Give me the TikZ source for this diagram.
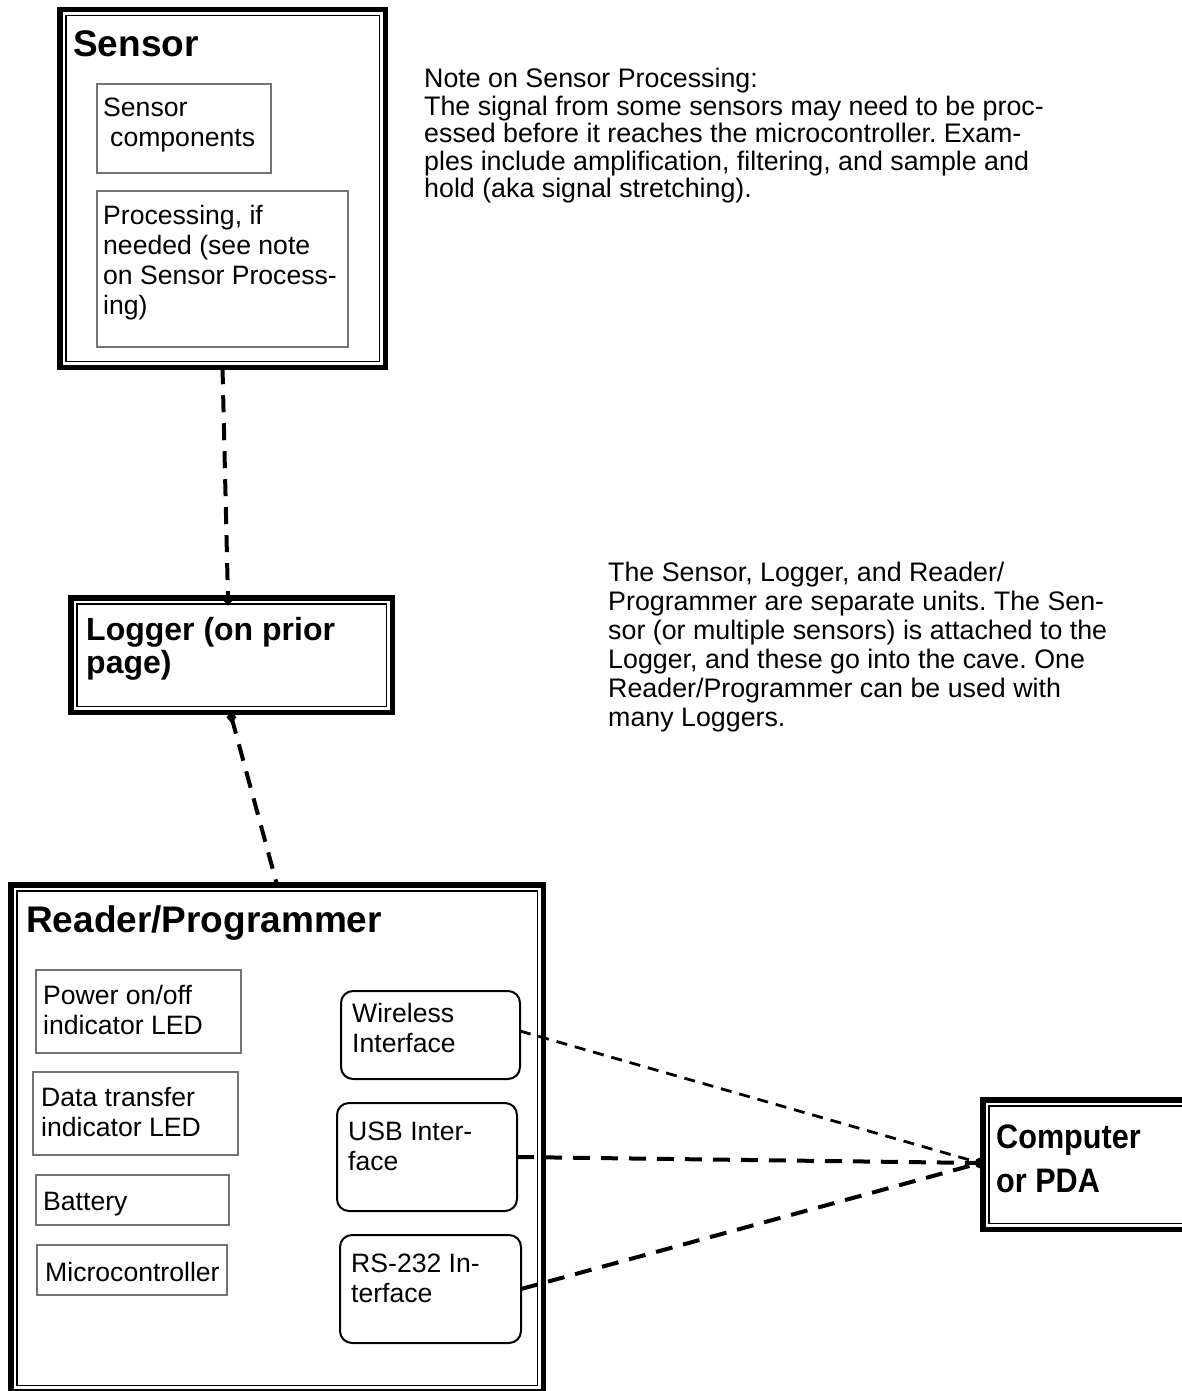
\documentclass[tikz,border=0pt]{standalone}
\usepackage{fontspec}
\setmainfont{Liberation Sans}
\newfontfamily\narrowbold{Liberation Sans}[FakeStretch=0.9,UprightFont={* Bold}]
\usetikzlibrary{arrows.meta}
\frenchspacing
\newcommand\ml[1]{\vtop{\halign{##\hfil\cr#1\crcr}}}
\newcommand\dbox[5]{%
  \node[bigbox, minimum width={#4-#2-5.5}, minimum height={#5-#3-5.5}] (#1) at ({#2+2.75},{#3+2.75}) {};
  \draw[innerline] ([shift={(6,6)}]#1.north west) rectangle ([shift={(-6,-6)}]#1.south east);}
\newcommand\pbox[6]{%
  \node[#6, minimum width={#4-#2}, minimum height={#5-#3}] (#1) at (#2,#3) {};}
\newcommand\diam[1]{\fill (#1) ++(0,-6) -- ++(5,6) -- ++(-5,6) -- ++(-5,-6) -- cycle;}
\begin{document}
\begin{tikzpicture}[x=1pt,y=-1pt,
  bigbox/.style={draw, line width=5.5pt, inner sep=0pt, outer sep=0pt, anchor=north west},
  innerline/.style={line width=1.5pt},
  graybox/.style={draw=black!55, line width=1.6pt, inner sep=0pt, outer sep=0pt, anchor=north west},
  roundbox/.style={draw, line width=2pt, rounded corners=12pt, inner sep=0pt, outer sep=0pt, anchor=north west},
  txtbody/.style={inner sep=0pt, anchor=base west, font=\fontsize{26.6}{30}\selectfont},
  txtnote/.style={inner sep=0pt, anchor=base west, font=\fontsize{26.8}{29}\selectfont},
  txtnotetight/.style={inner sep=0pt, anchor=base west, font=\fontsize{26.8}{27.5}\selectfont},
  txttitle/.style={inner sep=0pt, anchor=base west, font=\fontsize{37}{40}\selectfont\bfseries},
  thickdash/.style={line width=4pt, dash pattern=on 17pt off 11pt},
  thindash/.style={line width=2.8pt, dash pattern=on 11pt off 8pt}
]
\useasboundingbox (0,0) rectangle (1182,1391);
\clip (0,0) rectangle (1182,1391);

% ---- Sensor ----
\dbox{sensor}{57}{7}{388}{370}
\node[txttitle] (sensortitle) at (73,57) {Sensor};
\pbox{comp}{97}{84}{271}{173}{graybox}
\node[txtbody] (comptext) at (103,117) {\ml{Sensor\cr\hspace*{7pt}components}};
\pbox{proc}{97}{191}{348}{347}{graybox}
\node[txtbody] (proctext) at (103,224) {\ml{Processing, if\cr needed (see note\cr on Sensor Process-\cr ing)}};

% ---- Notes ----
\node[txtnotetight] (note1) at (424,88) {\ml{Note on Sensor Processing:\cr
The signal from some sensors may need to be proc-\cr
essed before it reaches the microcontroller. Exam-\cr
ples include amplification, filtering, and sample and\cr
hold (aka signal stretching).}};
\node[txtnote] (note2) at (608,581) {\ml{The Sensor, Logger, and Reader/\cr
Programmer are separate units. The Sen-\cr
sor (or multiple sensors) is attached to the\cr
Logger, and these go into the cave. One\cr
Reader/Programmer can be used with\cr
many Loggers.}};

% ---- Logger ----
\dbox{logger}{68}{595}{395}{715}
\node[inner sep=0pt, anchor=base west, font=\fontsize{32}{33}\selectfont\bfseries] (loggertext) at (86,640) {\ml{Logger (on prior\cr page)}};

% ---- Reader/Programmer ----
\dbox{reader}{8}{882}{546}{1394}
\node[txttitle] (readertitle) at (26,932) {Reader/Programmer};
\pbox{power}{36}{970}{241}{1053}{graybox}
\node[txtbody] (powertext) at (43,1004) {\ml{Power on/off\cr indicator LED}};
\pbox{data}{33}{1072}{238}{1155}{graybox}
\node[txtbody] (datatext) at (41,1106) {\ml{Data transfer\cr indicator LED}};
\pbox{battery}{36}{1175}{229}{1225}{graybox}
\node[txtbody] (batterytext) at (43,1210) {Battery};
\pbox{micro}{37}{1245}{227}{1295}{graybox}
\node[txtbody] (microtext) at (45,1281) {Microcontroller};
\pbox{wireless}{341}{991}{520}{1079}{roundbox}
\node[txtbody] (wirelesstext) at (352,1022) {\ml{Wireless\cr Interface}};
\pbox{usb}{337}{1103}{517}{1211}{roundbox}
\node[txtbody] (usbtext) at (348,1140) {\ml{USB Inter-\cr face}};
\pbox{rs}{340}{1235}{521}{1343}{roundbox}
\node[txtbody] (rstext) at (351,1272) {\ml{RS-232 In-\cr terface}};

% ---- Computer ----
\dbox{computer}{980}{1097}{1205}{1232}
\node[inner sep=0pt, anchor=base west, font=\narrowbold\fontsize{34}{44}\selectfont] (comptxt) at (996,1148) {\ml{Computer\cr or PDA}};

% ---- Connector end points ----
\coordinate (ltop) at ([xshift=-3.5pt,yshift=-2pt]logger.north);
\coordinate (lbot) at ([yshift=-5pt]logger.south);
\coordinate (cdot) at ([xshift=-2.5pt,yshift=1.5pt]computer.west);

% ---- Connectors ----
\draw[thickdash] (sensor.south) -- (ltop);
\draw[thickdash] (lbot) -- (reader.north);
\draw[thindash] ([yshift=4pt]wireless.east) -- (cdot);
\draw[thickdash] (usb.east) -- (cdot);
\draw[thickdash] (rs.east) -- (cdot);
\diam{ltop}
\diam{lbot}
\fill (cdot) circle (5.5);
\end{tikzpicture}
\end{document}
